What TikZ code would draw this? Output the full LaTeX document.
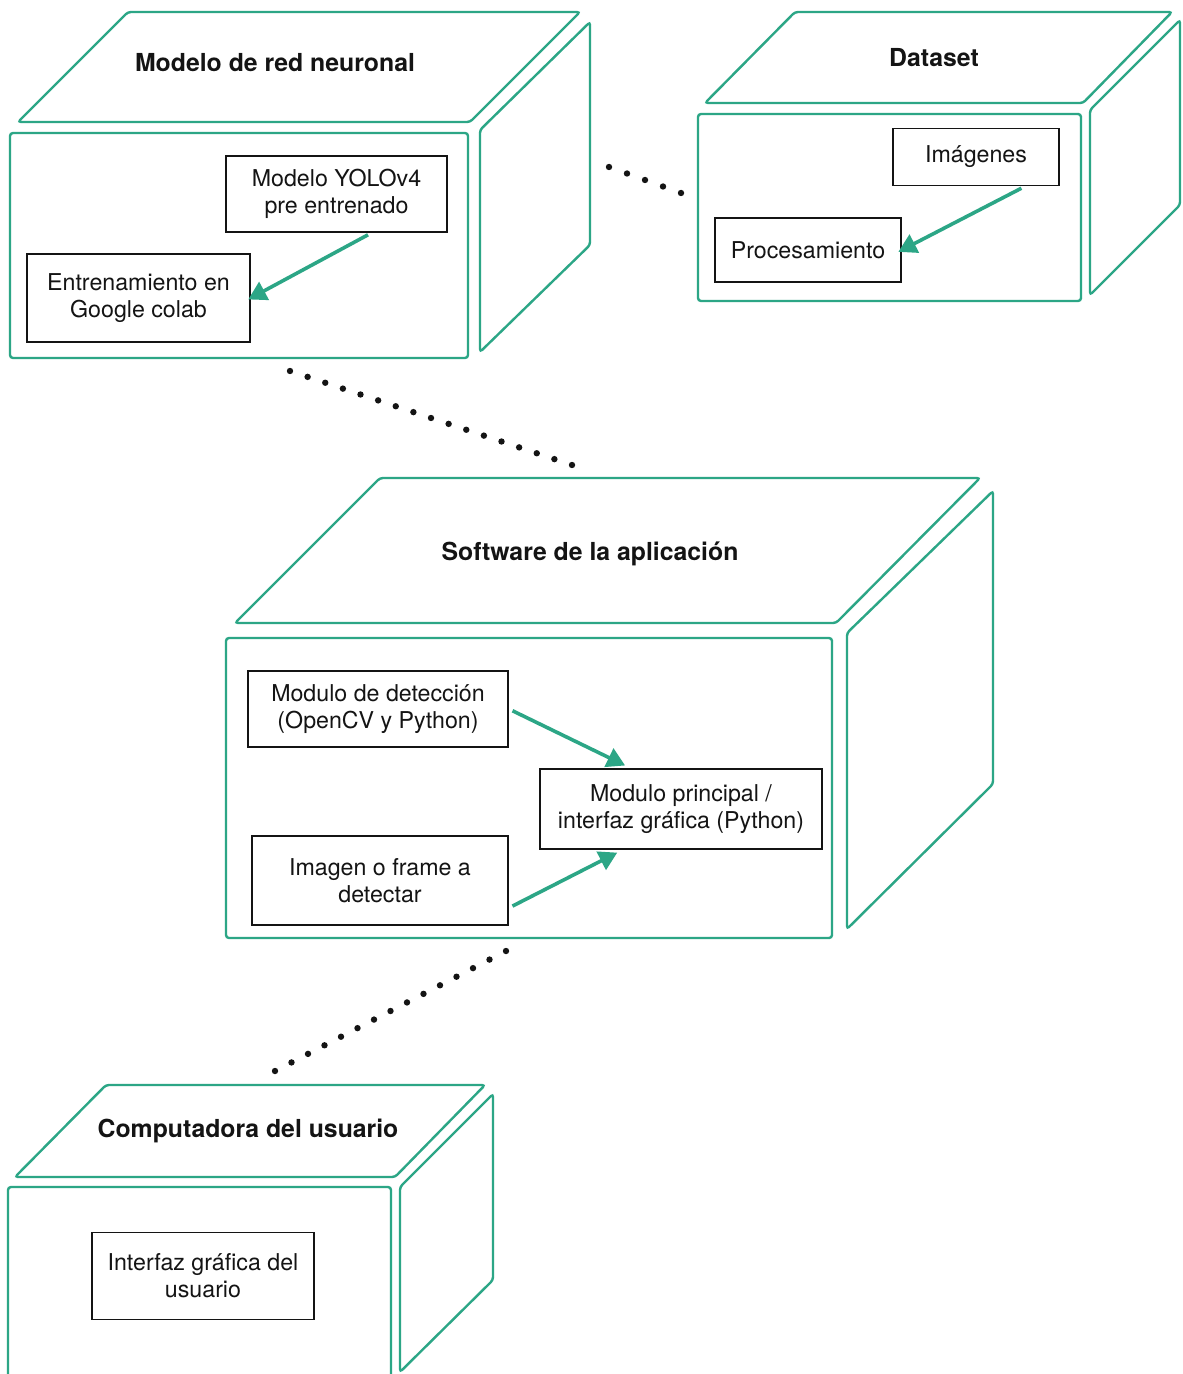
\documentclass[tikz,border=0pt]{standalone}
\usepackage{fontspec}
\setmainfont{TeX Gyre Heros}
\usepackage{xcolor}
\usepackage{tikz}
\usetikzlibrary{positioning,arrows.meta,calc}
\definecolor{teal}{RGB}{44,166,134}
\definecolor{ink}{RGB}{20,20,20}

\begin{document}
\begin{tikzpicture}[x=0.5pt,y=-0.5pt,
  every node/.style={font=\fontsize{11.6}{13.5}\selectfont,text=ink},
  face/.style={draw=teal,line width=1.2pt,rounded corners=1.5pt},
  title/.style={font=\fontsize{12.4}{15}\selectfont\bfseries},
  part/.style={draw=ink,line width=0.9pt,align=center,inner sep=2pt},
  arrow/.style={-{Triangle[length=9pt,width=10pt]},line width=1.8pt,draw=teal}
]
\useasboundingbox (0,0) rectangle (1182,1374);
\fill[white] (0,0) rectangle (1182,1374);

% cubo: modelo de red neuronal
\draw[face] (128,12) -- (580,12) -- (470,122) -- (18,122) -- cycle;
\draw[face] (10,133) rectangle (468,358);
\draw[face] (480,130) -- (590,22) -- (590,245) -- (480,352) -- cycle;
\node[title] (red) at (275,63) {Modelo de red neuronal};
\node[part,minimum width=110.5pt,minimum height=38pt] (yolo) at (336.5,194) {Modelo YOLOv4\\pre entrenado};
\node[part,minimum width=111.5pt,minimum height=44pt] (colab) at (138.5,298) {Entrenamiento en\\Google colab};
\draw[arrow,shorten <=2pt,shorten >=-1.5pt] (yolo.-48) -- (colab.east);

% cubo: dataset
\draw[face] (795,12) -- (1172,12) -- (1083,103) -- (705,103) -- cycle;
\draw[face] (698,114) rectangle (1081,301);
\draw[face] (1090,110) -- (1180,20) -- (1180,205) -- (1090,295) -- cycle;
\node[title] (data) at (934,58) {Dataset};
\node[part,minimum width=83pt,minimum height=28.5pt] (imgs) at (976,157) {Imágenes};
\node[part,minimum width=93pt,minimum height=32pt] (proc) at (808,250) {Procesamiento};
\draw[arrow,shorten <=2pt,shorten >=-2pt] (imgs.-31) -- (proc.east);

% cubo: software de la aplicacion
\draw[face] (380,478) -- (980,478) -- (836,623) -- (235,623) -- cycle;
\draw[face] (226,638) rectangle (832,938);
\draw[face] (847,633) -- (993,491) -- (993,784) -- (847,929) -- cycle;
\node[title] (soft) at (590,554) {Software de la aplicación};
\node[part,minimum width=130pt,minimum height=38pt] (deteccion) at (378,709) {Modulo de detección\\(OpenCV y Python)};
\node[part,minimum width=141pt,minimum height=40pt] (principal) at (681,809) {Modulo principal /\\interfaz gráfica (Python)};
\node[part,minimum width=128pt,minimum height=44.5pt] (frame) at (380,880.5) {Imagen o frame a\\detectar};
\draw[arrow,shorten <=2pt,shorten >=3pt] (deteccion.east) -- (principal.141);
\draw[arrow,shorten <=2pt,shorten >=3pt] (frame.-12) -- (principal.-145);

% cubo: computadora del usuario
\draw[face] (106,1085) -- (485,1085) -- (395,1177) -- (15,1177) -- cycle;
\draw[face] (8,1390) -- (8,1187) -- (391,1187) -- (391,1390);
\draw[face] (400,1187) -- (493,1094) -- (493,1280) -- (400,1372) -- cycle;
\node[title] (pc) at (248,1131) {Computadora del usuario};
\node[part,minimum width=111pt,minimum height=43.5pt] (gui) at (203,1276) {Interfaz gráfica del\\usuario};

% enlaces punteados
\coordinate (l1a) at (609,167);  \coordinate (l1b) at (681,193);
\coordinate (l2a) at (290,371);  \coordinate (l2b) at (572,465);
\coordinate (l3a) at (506,951);  \coordinate (l3b) at (275,1071);
\foreach \i in {0,...,4} \fill[ink] ($(l1a)!\i/4!(l1b)$) circle (1.6pt);
\foreach \i in {0,...,16} \fill[ink] ($(l2a)!\i/16!(l2b)$) circle (1.6pt);
\foreach \i in {0,...,14} \fill[ink] ($(l3a)!\i/14!(l3b)$) circle (1.6pt);
\end{tikzpicture}
\end{document}
